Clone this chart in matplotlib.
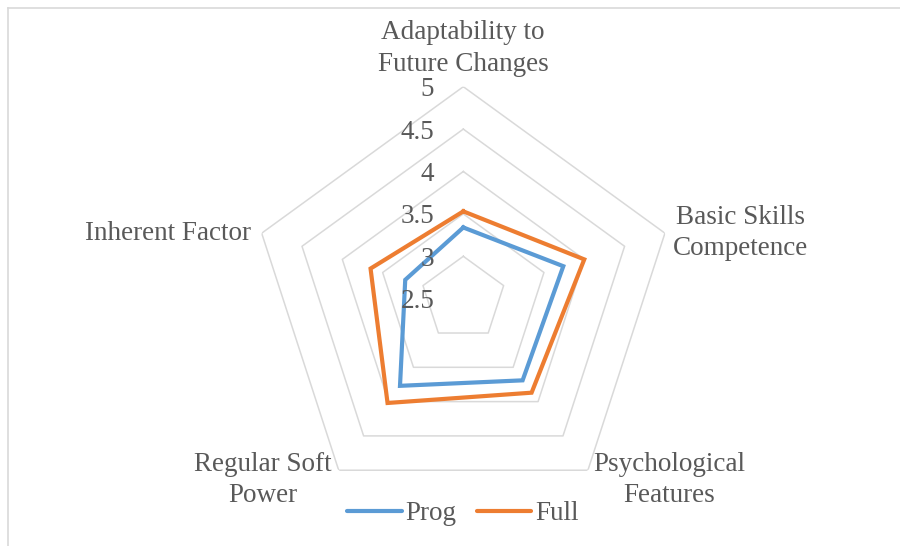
import numpy as np
import matplotlib.pyplot as plt
from matplotlib.lines import Line2D

categories = [
    "Adaptability to\nFuture Changes",
    "Basic Skills\nCompetence",
    "Psychological\nFeatures",
    "Regular Soft\nPower",
    "Inherent Factor",
]
prog = [3.34, 3.74, 3.69, 3.77, 3.22]
full = [3.53, 4.00, 3.87, 4.02, 3.65]
rings = [3.0, 3.5, 4.0, 4.5, 5.0]
tick_labels = ["2.5", "3", "3.5", "4", "4.5", "5"]
tick_values = [2.5, 3.0, 3.5, 4.0, 4.5, 5.0]

TEXT = "#595959"
GRID = "#d9d9d9"
BLUE = "#5B9BD5"
ORANGE = "#ED7D31"

plt.rcParams["font.family"] = ["Liberation Serif", "DejaVu Serif"]
plt.rcParams["font.size"] = 19.5

W, H = 900, 546
fig = plt.figure(figsize=(W / 100, H / 100), dpi=100)

# chart-area frame (only left and top edges visible)
fig.add_artist(Line2D([8 / W, 8 / W], [0, 1 - 7.5 / H], transform=fig.transFigure,
                      color=GRID, lw=1.2))
fig.add_artist(Line2D([8 / W, 1], [1 - 7.5 / H, 1 - 7.5 / H], transform=fig.transFigure,
                      color=GRID, lw=1.2))

cx, cy, R = 463.3, 298.7, 212.0
ax = fig.add_axes([(cx - R) / W, (H - cy - R) / H, 2 * R / W, 2 * R / H], projection="polar")
ax.set_theta_offset(np.pi / 2)
ax.set_theta_direction(-1)
ax.set_ylim(2.5, 5.0)
ax.grid(False)
ax.set_xticks([])
ax.set_yticks([])
ax.spines["polar"].set_visible(False)
ax.patch.set_alpha(0)

n = len(categories)
ang = np.linspace(0, 2 * np.pi, n, endpoint=False)
ang_c = np.append(ang, ang[0])

for r in rings:
    ax.plot(ang_c, [r] * (n + 1), color=GRID, lw=1.1, zorder=1)

ax.plot(ang_c, prog + prog[:1], color=BLUE, lw=3.0, solid_joinstyle="miter", zorder=3, label="Prog")
ax.plot(ang_c, full + full[:1], color=ORANGE, lw=3.0, solid_joinstyle="miter", zorder=3, label="Full")

for v, lab in zip(tick_values, tick_labels):
    ax.annotate(lab, xy=(0, v), xytext=(-29, -3), textcoords="offset pixels",
                ha="right", va="center", color=TEXT, zorder=4, annotation_clip=False)

# category labels (pixel centres)
label_pos = [(463, 48.5), (740, 233), (669, 480), (263, 480), (168, 234)]
for txt, (px, py) in zip(categories, label_pos):
    fig.text(px / W, 1 - py / H, txt, ha="center", va="center", color=TEXT,
             multialignment="center", linespacing=1.36)

leg = fig.legend(loc="center", bbox_to_anchor=(463 / W, 1 - 514 / H), ncol=2, frameon=False,
                 handlelength=2.0, handletextpad=0.15, columnspacing=0.75,
                 labelcolor=TEXT)
for h in leg.get_lines():
    h.set_solid_capstyle("round")

fig.savefig("out.png", dpi=100)
